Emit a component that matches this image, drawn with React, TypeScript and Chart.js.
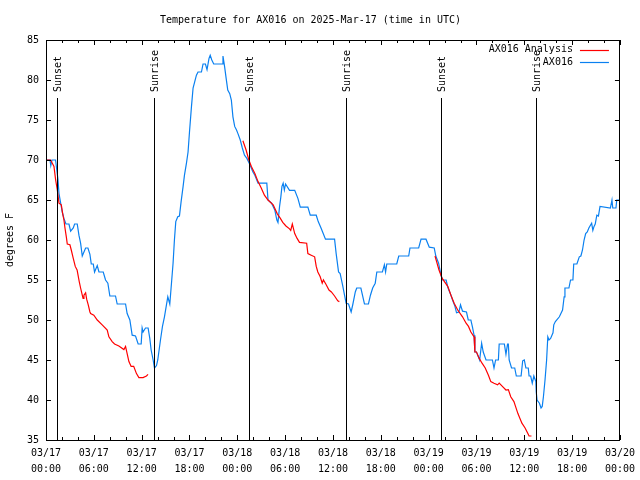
import React, { useEffect, useRef } from "react";
import { Chart, registerables } from "chart.js";

Chart.register(...registerables);

const FONT = "'DejaVu Sans Mono', 'Liberation Mono', monospace";

const titleText = "Temperature for AX016 on 2025-Mar-17 (time in UTC)";
const yAxisTitle = "degrees F";
const seriesNames = ["AX016 Analysis", "AX016"];
const seriesColors = ["#ff0000", "#0a80f0"];

const xTickLabels = [
  ["03/17", "00:00"], ["03/17", "06:00"], ["03/17", "12:00"], ["03/17", "18:00"],
  ["03/18", "00:00"], ["03/18", "06:00"], ["03/18", "12:00"], ["03/18", "18:00"],
  ["03/19", "00:00"], ["03/19", "06:00"], ["03/19", "12:00"], ["03/19", "18:00"],
  ["03/20", "00:00"],
];
const yTicks = [35, 40, 45, 50, 55, 60, 65, 70, 75, 80, 85];

const sunsetHours = [1.43, 25.46, 49.49];
const sunriseHours = [13.58, 37.6, 61.52];

// AX016 observations (hours since 03/17 00:00 UTC, degrees F)
const blueHours = [
  0.0, 0.5, 0.6, 0.75, 1.2, 1.35, 1.5, 1.63, 1.84, 2.04, 2.25, 2.5, 2.88, 3.09, 3.42, 3.59, 3.92,
  4.13, 4.34, 4.55, 4.76, 4.97, 5.26, 5.51, 5.68, 5.93, 6.09, 6.43, 6.64, 7.18, 7.47, 7.76, 8.01,
  8.72, 8.93, 9.98, 10.18, 10.52, 10.81, 11.23, 11.56, 11.94, 12.06, 12.18, 12.48, 12.81, 13.02,
  13.19, 13.44, 13.61, 13.86, 14.02, 14.36, 14.61, 14.86, 15.11, 15.28, 15.53, 15.74, 15.94, 16.11,
  16.28, 16.53, 16.74, 16.95, 17.2, 17.37, 17.62, 17.82, 18.0, 18.25, 18.45, 18.66, 18.87, 19.07,
  19.5, 19.7, 20.0, 20.2, 20.45, 20.6, 20.8, 21.04, 22.1, 22.2, 22.4, 22.6, 22.8, 23.05, 23.25,
  23.45, 23.67, 23.9, 24.08, 24.37, 24.63, 24.9, 25.2, 25.5, 25.96, 26.2, 26.6, 27.7, 27.85, 28.3,
  28.7, 28.96, 29.1, 29.3, 29.45, 29.6, 29.75, 29.9, 30.05, 30.55, 31.2, 31.6, 31.9, 32.85, 33.15,
  33.9, 34.15, 34.5, 34.7, 35.06, 36.2, 36.4, 36.7, 36.9, 37.2, 37.45, 37.65, 37.95, 38.28, 38.5,
  38.8, 38.98, 39.5, 39.95, 40.45, 40.7, 40.98, 41.3, 41.5, 42.2, 42.45, 42.6, 42.75, 44.0, 44.25,
  45.5, 45.66, 46.75, 47.05, 47.67, 48.08, 48.7, 48.9, 49.25, 49.55, 49.75, 50.2, 50.4, 50.8, 51.0,
  51.3, 51.5, 51.8, 52.0, 52.25, 52.75, 52.97, 53.3, 53.5, 53.7, 53.8, 54.0, 54.2, 54.4, 54.65,
  54.85, 55.2, 56.0, 56.2, 56.4, 56.75, 56.85, 57.5, 57.7, 57.9, 58.0, 58.1, 58.4, 58.8, 59.0, 59.6,
  59.8, 60.0, 60.2, 60.5, 60.6, 60.8, 61.0, 61.2, 61.45, 61.5, 61.6, 61.9, 62.1, 62.25, 62.4, 62.6,
  62.8, 62.95, 63.1, 63.3, 63.6, 63.7, 63.9, 64.4, 64.8, 65.0, 65.1, 65.6, 65.8, 66.1, 66.2, 66.6,
  66.9, 67.1, 67.3, 67.5, 67.7, 67.9, 68.1, 68.45, 68.6, 68.75, 68.9, 69.1, 69.3, 69.5, 70.8, 71.0,
  71.1, 71.5, 71.6, 72.0,
];
const blueTemps = [
  70, 70, 69.3, 70, 70, 68.8, 67.6, 65.8, 64.6, 63.5, 62.7, 62, 62, 61.1, 61.5, 62, 62,
  60.6, 59.6, 58, 58.5, 59, 59, 58.2, 57, 57, 56, 56.8, 56, 56, 55, 54.6, 53,
  53, 52, 52, 50.8, 50, 48.1, 48, 47, 47, 49, 48.5, 49, 49, 47.7,
  46.25, 45, 44, 44.3, 45, 47.5, 49.2, 50.4, 51.9, 52.9, 52, 54.6, 57.1, 60,
  62.3, 62.9, 63, 64.8, 66.7, 68.1, 69.6, 71, 73.5, 76.7, 79, 79.8, 80.6, 81,
  81, 82, 82, 81.3, 82.7, 83.1, 82.5, 82, 82, 83, 81.7, 80.2, 78.75, 78.3, 77.5,
  75.4, 74.2, 73.75, 73.3, 72.5, 71.5, 70.6, 70.2, 69.6, 68.5, 68.1, 67.1, 67.1, 65, 64.6,
  63.75, 62.5, 62.2, 64.2, 65.3, 66.7, 67.1, 66.25, 67, 66.2, 66.2, 65.2, 64.1, 64.1, 63.1,
  63.1, 62.3, 61.5, 61, 60.1, 60.1, 58.3, 56, 55.8, 54.4, 53.1, 52.1, 52, 51, 52,
  53.5, 54, 54, 52, 52, 53.1, 54, 54.6, 56, 56, 56.9, 56, 57, 57, 58,
  58, 59, 59, 60.1, 60.1, 59.1, 59, 58, 57.1, 55.6, 55, 55, 54.1, 53.1, 52.5,
  51.7, 50.9, 51, 51.9, 51.1, 51, 50, 50, 49.1, 48.1, 46, 46, 45.5, 45, 47.1,
  46, 45, 45, 44, 45, 45, 47, 47, 45.7, 47, 47, 45, 44, 44, 43, 43,
  44.9, 45, 44, 44, 43, 43, 42.1, 43, 42.3, 41, 40, 39.6, 39, 39.2, 40.4, 42.5,
  45, 47.9, 47.5, 47.7, 48.4, 49.4, 49.8, 50.4, 51.25, 52.9, 54, 54, 55, 55, 57, 57,
  57.9, 58, 58.75, 60, 60.8, 61, 61.5, 62.1, 61.2, 61.7, 62, 63.1, 63, 64.2, 64, 65,
  64, 64, 65, 65,
];

// AX016 Analysis (null = gap between segments)
const redHours = [
  0.0, 0.58, 0.79, 1.0, 1.21, 1.42, 1.63, 1.92, 2.09, 2.25, 2.38, 2.55, 2.67, 3.0, 3.17, 3.42,
  3.67, 3.9, 4.17, 4.34, 4.55, 4.65, 4.76, 4.97, 5.1, 5.3, 5.51, 5.6, 6.0, 6.43, 7.05, 7.68, 7.89,
  8.3, 8.6, 9.14, 9.77, 9.98, 10.18, 10.4, 10.68, 11.0, 11.35, 11.65, 12.18, 12.6, 12.8,
  18.0,
  24.7, 25.1, 25.45, 25.76, 26.2, 26.6, 27.0, 27.4, 27.85, 28.5, 29.0, 29.4, 29.7, 30.1, 30.55,
  30.7, 30.9, 31.2, 31.5, 31.8, 32.7, 32.85, 33.27, 33.7, 33.9, 34.1, 34.4, 34.65, 34.8, 35.1,
  35.5, 35.8, 36.2, 36.6, 36.8,
  42.0,
  48.8, 49.0, 49.3, 49.7, 50.4, 50.8, 51.2, 51.65, 52.25, 52.7, 53.0, 53.3, 53.7, 53.8, 54.0,
  54.35, 54.7, 55.1, 55.5, 55.8, 56.2, 56.65, 56.85, 57.25, 57.7, 58.0, 58.3, 58.7, 58.9, 59.2,
  59.7, 60.1, 60.4, 60.6, 60.9,
];
const redTemps = [
  70, 70, 69.6, 69.2, 67.5, 66.25, 64.6, 64.4, 63.3, 62.5, 61.5, 60.4, 59.5, 59.4, 58.75, 57.7,
  56.7, 56.25, 54.8, 54, 53.1, 52.7, 53.1, 53.4, 52.6, 51.9, 51, 50.8, 50.6, 50, 49.4, 48.75, 47.9,
  47.3, 47, 46.75, 46.3, 46.7, 45.8, 44.8, 44.2, 44.2, 43.3, 42.8, 42.8, 43, 43.2,
  null,
  72.4, 71.25, 70, 69.2, 68.3, 67.3, 66.5, 65.6, 65, 64.4, 63.3, 62.7, 62.2, 61.75, 61.4,
  61.2, 62, 60.8, 60.2, 59.7, 59.6, 58.3, 58.1, 57.9, 56.7, 56, 55.4, 54.6, 55, 54.5,
  53.75, 53.5, 53, 52.4, 52.3,
  null,
  58, 57.3, 56.25, 55.2, 54.2, 53.1, 52.1, 51.25, 50.4, 49.6, 49.2, 48.5, 47.9, 46, 46,
  45.2, 44.6, 44, 43.1, 42.3, 42.1, 41.9, 42.1, 41.7, 41.25, 41.3, 40.4, 39.8, 39.2, 38.3,
  37.1, 36.5, 35.9, 35.5, 35.5,
];

const MARKER_TOP = 77.75;
const MARKER_LABEL_Y = 78.5;

const decorPlugin = {
  id: "decor",
  afterDatasetsDraw(chart: any) {
    const { ctx, chartArea, scales } = chart;
    const { left, right, top, bottom } = chartArea;
    const xs = scales.x;
    const ys = scales.y;
    ctx.save();
    ctx.strokeStyle = "#000";
    ctx.lineWidth = 1;
    // frame
    ctx.strokeRect(Math.round(left) + 0.5, Math.round(top) + 0.5, Math.round(right - left) - 1, Math.round(bottom - top));
    ctx.beginPath();
    // x ticks (major every 6h, minor every 2h), inward on bottom and top
    for (let h = 0; h <= 72; h += 2) {
      const px = Math.round(xs.getPixelForValue(h)) + 0.5;
      const len = h % 6 === 0 ? 5 : 3;
      ctx.moveTo(px, bottom);
      ctx.lineTo(px, bottom - len);
      ctx.moveTo(px, top);
      ctx.lineTo(px, top + len);
    }
    for (const v of yTicks) {
      const py = Math.round(ys.getPixelForValue(v)) + 0.5;
      ctx.moveTo(left, py);
      ctx.lineTo(left + 5, py);
      ctx.moveTo(right, py);
      ctx.lineTo(right - 5, py);
    }
    // sunrise / sunset marker lines
    const markerTopPx = ys.getPixelForValue(MARKER_TOP);
    const markerBottomPx = ys.getPixelForValue(35);
    [...sunsetHours, ...sunriseHours].forEach((h) => {
      const px = Math.round(xs.getPixelForValue(h)) + 0.5;
      ctx.moveTo(px, markerTopPx);
      ctx.lineTo(px, markerBottomPx);
    });
    ctx.stroke();

    // sunrise / sunset labels
    ctx.fillStyle = "#000";
    ctx.font = `10px ${FONT}`;
    ctx.textAlign = "left";
    ctx.textBaseline = "middle";
    const ly = ys.getPixelForValue(MARKER_LABEL_Y);
    const drawLabel = (h: number, text: string) => {
      const px = Math.round(xs.getPixelForValue(h));
      ctx.save();
      ctx.translate(px + 1, ly);
      ctx.rotate(-Math.PI / 2);
      ctx.fillText(text, 0, 0);
      ctx.restore();
    };
    sunsetHours.forEach((h) => drawLabel(h, "Sunset"));
    sunriseHours.forEach((h) => drawLabel(h, "Sunrise"));

    // legend (gnuplot style, top-right inside)
    ctx.textAlign = "right";
    seriesNames.forEach((name, i) => {
      const yy = top + 9.5 + i * 12.5;
      ctx.fillStyle = "#000";
      ctx.fillText(name, right - 47, yy);
      ctx.strokeStyle = seriesColors[i];
      ctx.lineWidth = 1.2;
      ctx.beginPath();
      ctx.moveTo(right - 40, Math.round(yy) + 0.5);
      ctx.lineTo(right - 11, Math.round(yy) + 0.5);
      ctx.stroke();
    });
    ctx.restore();
  },
};

export default function App() {
  const canvasRef = useRef<HTMLCanvasElement | null>(null);

  useEffect(() => {
    document.body.style.margin = "0";
    const canvas = canvasRef.current;
    if (!canvas) return;

    const chart = new Chart(canvas, {
      type: "line",
      data: {
        datasets: [
          {
            label: seriesNames[0],
            data: redHours.map((h, i) => ({ x: h, y: redTemps[i] })),
            borderColor: seriesColors[0],
            borderWidth: 1.2,
            pointRadius: 0,
            spanGaps: false,
            tension: 0,
          },
          {
            label: seriesNames[1],
            data: blueHours.map((h, i) => ({ x: h, y: blueTemps[i] })),
            borderColor: seriesColors[1],
            borderWidth: 1.2,
            pointRadius: 0,
            tension: 0,
          },
        ] as any,
      },
      options: {
        animation: false,
        responsive: false,
        events: [],
        layout: { padding: { left: 0, right: 19, top: 0, bottom: 0 } },
        plugins: {
          legend: { display: false },
          tooltip: { enabled: false },
          title: {
            display: true,
            text: titleText,
            color: "#000",
            font: { family: FONT, size: 10, weight: "normal" as any, lineHeight: 1.2 },
            padding: { top: 14, bottom: 14 },
          },
        },
        scales: {
          x: {
            type: "linear",
            min: 0,
            max: 72,
            grid: { display: false, drawTicks: false },
            border: { display: false },
            afterFit: (s: any) => {
              s.height = 40;
            },
            ticks: {
              stepSize: 6,
              autoSkip: false,
              maxRotation: 0,
              minRotation: 0,
              padding: 5,
              color: "#000",
              font: { family: FONT, size: 10, lineHeight: 1.6 },
              callback: (v: any) => xTickLabels[Math.round(Number(v) / 6)] as any,
            },
          },
          y: {
            type: "linear",
            min: 35,
            max: 85,
            grid: { display: false, drawTicks: false },
            border: { display: false },
            afterFit: (s: any) => {
              s.width = 46;
            },
            title: {
              display: true,
              text: yAxisTitle,
              color: "#000",
              font: { family: FONT, size: 10, lineHeight: 1.2 },
              padding: { top: 4, bottom: 0 },
            },
            ticks: {
              stepSize: 5,
              padding: 7,
              color: "#000",
              font: { family: FONT, size: 10 },
              callback: (v: any) => String(v),
            },
          },
        },
      },
      plugins: [decorPlugin],
    });

    return () => chart.destroy();
  }, []);

  return (
    <div style={{ width: 640, height: 480 }}>
      <canvas ref={canvasRef} width={640} height={480} style={{ display: "block" }} />
    </div>
  );
}
